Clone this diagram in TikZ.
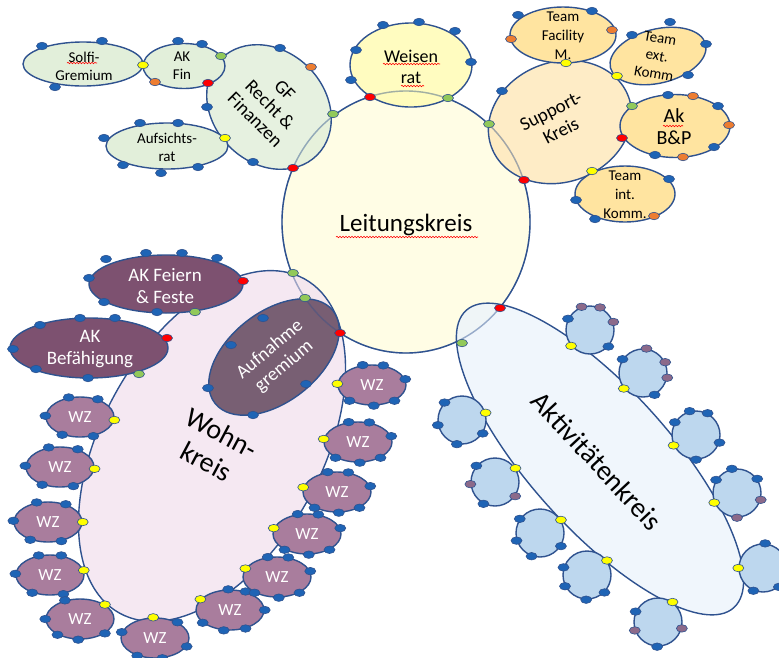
\documentclass[tikz,border=0pt]{standalone}
\usepackage{fontspec}
\setmainfont{Carlito}
\usetikzlibrary{shapes.geometric,decorations.pathmorphing}
\definecolor{edge}{HTML}{2F528F}
\definecolor{bdotc}{HTML}{1F64B5}
\definecolor{ydotc}{HTML}{FFFF00}
\definecolor{gdotc}{HTML}{92C95A}
\definecolor{rdotc}{HTML}{FF0000}
\definecolor{odotc}{HTML}{ED7D31}
\definecolor{mdotc}{HTML}{8C6A8A}
\definecolor{leitc}{HTML}{FFFDE5}
\definecolor{weisc}{HTML}{FFFCB5}
\definecolor{grnc}{HTML}{E2EFDA}
\definecolor{suppc}{HTML}{FEE9BC}
\definecolor{teamc}{HTML}{FFE4A0}
\definecolor{wohnc}{HTML}{F3E4F0}
\definecolor{purpc}{HTML}{7D5170}
\definecolor{aufnc}{HTML}{6B5066}
\definecolor{wzc}{HTML}{A97D9D}
\definecolor{aktc}{HTML}{EDF4FB}
\definecolor{acirc}{HTML}{BDD7EE}
\newcommand{\myfs}[2]{\fontsize{#1}{#2}\selectfont}
\tikzset{
  shp/.style={ellipse, draw=edge, line width=1.4pt, inner sep=0pt},
  wzbox/.style={shp, fill=wzc, minimum width=68pt, minimum height=40pt, text=white, font=\myfs{17}{20}},
  acbox/.style={circle, draw=edge, line width=1.4pt, inner sep=0pt, fill=acirc, minimum size=48pt},
  dotbase/.style={ellipse, draw=edge, line width=0.6pt, minimum width=11pt, minimum height=7.5pt, inner sep=0pt},
  lbl/.style={align=center, inner sep=0pt, text=black},
  wlbl/.style={align=center, inner sep=0pt, text=white},
  wavy/.style={draw=red, line width=0.6pt, decorate, decoration={snake, amplitude=0.7pt, segment length=3pt}},
}
\begin{document}
\begin{tikzpicture}[x=1pt,y=-1pt]
\useasboundingbox (0,0) rectangle (779,657);
% main shapes
\node[shp, fill=leitc, minimum width=248pt, minimum height=262pt] (lk) at (406,222) {};
\node[shp, fill=wohnc, fill opacity=0.85, minimum width=382pt, minimum height=220pt, rotate=61] (wk) at (212,446) {};
\node[shp, fill=aktc, fill opacity=0.85, minimum width=400pt, minimum height=140pt, rotate=-48] (ak) at (600,459) {};
\node[shp, fill=grnc, fill opacity=0.85, minimum width=136pt, minimum height=112pt, rotate=-45] (gf) at (269,107) {};
\node[shp, fill=grnc, minimum width=82pt, minimum height=45pt] (akf) at (184,66) {};
\node[shp, fill=grnc, minimum width=120pt, minimum height=44pt] (sg) at (83,64) {};
\node[shp, fill=grnc, minimum width=122pt, minimum height=46pt] (ar) at (167,146) {};
\node[shp, fill=suppc, fill opacity=0.85, minimum width=146pt, minimum height=120pt, rotate=20] (sk) at (560,122) {};
\node[shp, fill=teamc, minimum width=106pt, minimum height=56pt] (tf) at (563,35) {};
\node[shp, fill=teamc, minimum width=98pt, minimum height=54pt, rotate=14] (te) at (658,56) {};
\node[shp, fill=teamc, minimum width=110pt, minimum height=63pt] (bp) at (675,126) {};
\node[shp, fill=teamc, minimum width=100pt, minimum height=56pt] (ti) at (625,194) {};
\node[shp, fill=weisc, fill opacity=0.85, minimum width=122pt, minimum height=84pt] (wr) at (411,65) {};
\node[shp, fill=purpc, minimum width=154pt, minimum height=58pt] (fe) at (166,284) {};
\node[shp, fill=purpc, minimum width=158pt, minimum height=60pt] (bf) at (89,348) {};
\node[shp, fill=aufnc, fill opacity=0.9, minimum width=150pt, minimum height=90pt, rotate=38] (ag) at (274,357) {};
% faint outline of Leitungskreis through overlapping shapes
\draw[edge, line width=1.4pt, draw opacity=0.35] (lk.center) ellipse [x radius=124pt, y radius=131pt];
% WZ
\foreach \n/\x/\y/\ya/\bl in {
w1/80/417/355/{45,120,178,225,305},
w2/60/467/357/{45,120,178,225,305},
w3/48/522/0/{45,120,178,225,305},
w4/50/575/8/{60,120,178,225,305},
w5/80/619/30/{129,180,215,265,330},
w6/155/638/95/{35,170,225,290,345},
w7/230/610/160/{50,95,0,310,253,205},
w8/277/577/165/{215,275,325,10,60,115},
w9/307/534/170/{215,275,325,10,60,115},
w10/337/492/172/{215,275,325,10,60,115},
w11/358/442/175/{215,275,325,10,60,115},
w12/372/385/178/{215,275,325,10,60,115}}
{
 \node[wzbox] (\n) at (\x,\y) {WZ};
 \node[dotbase, fill=ydotc] at (\n.\ya) {};
 \foreach \a in \bl {\node[dotbase, fill=bdotc] at (\n.\a) {};}
}
% activity circles
\foreach \n/\x/\y/\bl in {
a1/590/330/{153/bdotc,110/mdotc,66/mdotc,19/mdotc,318/bdotc,220/ydotc},
a2/643/373/{82/mdotc,26/mdotc,349/mdotc,146/bdotc,298/bdotc,219/ydotc},
a3/696/435/{149/bdotc,105/bdotc,62/bdotc,342/bdotc,270/bdotc,205/ydotc},
a4/737/493/{148/bdotc,102/bdotc,35/bdotc,344/mdotc,270/mdotc,203/ydotc},
a5/763/568/{85/bdotc,247/bdotc,310/bdotc,180/ydotc},
a6/658/622/{155/bdotc,200/mdotc,345/mdotc,268/bdotc,54/ydotc},
a7/587/575/{162/bdotc,207/bdotc,268/bdotc,315/bdotc,36/ydotc},
a8/540/533/{145/bdotc,198/bdotc,250/bdotc,328/bdotc,32/ydotc},
a9/495/482/{139/bdotc,185/mdotc,242/bdotc,325/mdotc,34/ydotc},
a10/462/420/{135/bdotc,192/bdotc,258/bdotc,327/bdotc,17/ydotc}}
{
 \node[acbox] (\n) at (\x,\y) {};
 \foreach \a/\c in \bl {\node[dotbase, fill=\c] at (\n.\a) {};}
}
% dots
\foreach \c/\x/\y in {
rdotc/370/97, gdotc/448/98, gdotc/333/114, rdotc/293/168, gdotc/489/124, rdotc/524/180, gdotc/293/273, rdotc/340/333, rdotc/500/308, gdotc/462/343,
bdotc/383/25, bdotc/419/22, bdotc/455/31, bdotc/471/62, bdotc/356/50, bdotc/351/80,
bdotc/280/48, odotc/311/67, gdotc/221/56, rdotc/208/83, bdotc/207/107, ydotc/225/138, bdotc/253/162,
bdotc/178/41, bdotc/202/44, odotc/155/82, ydotc/143/65,
bdotc/42/46, bdotc/102/41, bdotc/55/87,
bdotc/104/138, bdotc/140/123, bdotc/178/123, bdotc/123/165, bdotc/161/173, bdotc/198/167,
ydotc/566/63, ydotc/617/76, gdotc/632/106, rdotc/622/138, ydotc/592/171, bdotc/502/91,
bdotc/518/15, bdotc/592/11, odotc/612/30, odotc/511/39,
bdotc/670/22, bdotc/632/35, bdotc/706/44, bdotc/688/75,
bdotc/668/95, odotc/693/96, bdotc/718/106, odotc/729/125, bdotc/714/147, odotc/683/157, bdotc/655/155,
bdotc/669/179, bdotc/576/200, bdotc/595/219, odotc/654/216,
bdotc/106/259, bdotc/146/253, bdotc/182/253, bdotc/217/258, bdotc/89/278, bdotc/104/302, bdotc/157/312, rdotc/243/281, gdotc/195/312,
bdotc/40/325, bdotc/80/318, bdotc/115/318, bdotc/13/349, bdotc/36/369, bdotc/88/378, rdotc/167/338, gdotc/139/374,
gdotc/305/298, bdotc/263/318, bdotc/231/345, bdotc/208/388, bdotc/253/415, bdotc/306/384}
{\node[dotbase, fill=\c] at (\x,\y) {};}
% labels
\node[lbl, font=\myfs{25}{30}] (tlk) at (406,225) {Leitungskreis};
\node[lbl, font=\myfs{18}{21}] (twr) at (411,67) {Weisen\\rat};
\node[lbl, font=\myfs{19}{21}, rotate=-45] (tgf) at (270,105) {GF\\Recht \&\\Finanzen};
\node[lbl, font=\myfs{15}{18}] (takf) at (182,66) {AK\\Fin};
\node[lbl, font=\myfs{15}{18}] (tsg) at (84,66) {Solfi-\\Gremium};
\node[lbl, font=\myfs{15}{18}] (tar) at (167,147) {Aufsichts-\\rat};
\node[lbl, font=\myfs{19}{22}, rotate=27] (tsk) at (556,121) {Support-\\Kreis};
\node[lbl, font=\myfs{15}{19}] (ttf) at (563,36) {Team\\Facility\\M.};
\node[lbl, font=\myfs{15}{18}, rotate=-10] (tte) at (657,56) {Team\\ext.\\Komm};
\node[lbl, font=\myfs{20}{22}] (tbp) at (674,127) {Ak\\B\&P};
\node[lbl, font=\myfs{15}{19}] (tti) at (625,195) {Team\\int.\\Komm.};
\node[wlbl, font=\myfs{19}{22}] (tfe) at (165,286) {AK Feiern\\\& Feste};
\node[wlbl, font=\myfs{19}{22}] (tbf) at (90,349) {AK\\Befähigung};
\node[wlbl, font=\myfs{19}{22}, rotate=40] (tag) at (277,358) {Aufnahme\\gremium};
\node[lbl, font=\myfs{28}{32}, rotate=-28] (twk) at (214,447) {Wohn-\\kreis};
\node[lbl, font=\myfs{28}{32}, rotate=-47] (tak) at (597,461) {Aktivitätenkreis};
% spell-check underlines
\draw[wavy] (383,64) -- (440,64);
\draw[wavy] (401,86) -- (424,86);
\draw[wavy] (336,237) -- (478,237);
\draw[wavy] (67,63) -- (97,63);
\draw[wavy] (663,126) -- (683,126);
\end{tikzpicture}
\end{document}
